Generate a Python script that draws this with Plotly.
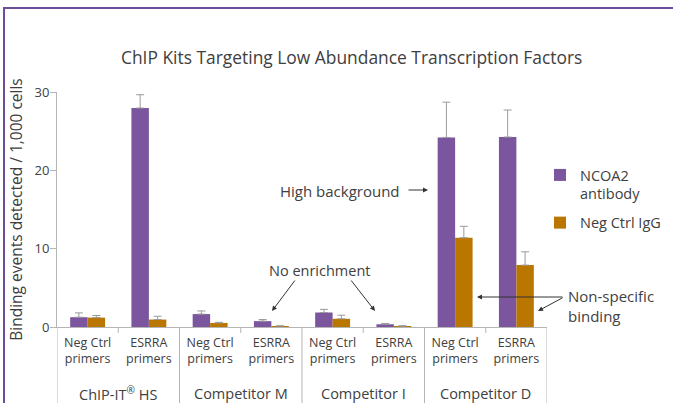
import plotly.graph_objects as go

# ---- data ----
primer_labels = ["Neg Ctrl<br>primers", "ESRRA<br>primers"] * 4
kit_labels = ["ChIP-IT<sup>®</sup> HS", "Competitor M", "Competitor I", "Competitor D"]
ncoa2 = [1.25, 27.95, 1.65, 0.75, 1.85, 0.35, 24.2, 24.25]
ncoa2_err = [0.55, 1.7, 0.4, 0.2, 0.4, 0.1, 4.5, 3.45]
igg = [1.2, 0.95, 0.52, 0.12, 1.05, 0.12, 11.4, 7.9]
igg_err = [0.27, 0.42, 0.08, 0.04, 0.45, 0.04, 1.45, 1.7]
series_names = ["NCOA2<br>antibody", "Neg Ctrl IgG"]
title_text = "ChIP Kits Targeting Low Abundance Transcription Factors"
y_title = "Binding events detected / 1,000 cells"

# ---- layout geometry (pixels) ----
W, H = 673, 403
L, R, T, B = 57, 547, 92, 327
PW, PH = R - L, B - T

def px(xp):
    return (xp - L) / PW

def py(yp):
    return (B - yp) / PH

PURPLE = "#7B559D"
ORANGE = "#BA7700"
TXT = "#404040"
GRID = "#b5b5b5"
FONT = "Open Sans"

x = list(range(len(ncoa2)))

fig = go.Figure()
fig.add_trace(go.Bar(
    x=x, y=ncoa2, name=series_names[0], marker_color=PURPLE, marker_line_width=0,
    legendgroup="a",
    error_y=dict(type="data", array=ncoa2_err, arrayminus=[0] * len(x), symmetric=False,
                 color="#9a9a9a", thickness=1, width=4),
))
fig.add_trace(go.Bar(
    x=x, y=igg, name=series_names[1], marker_color=ORANGE, marker_line_width=0,
    legendgroup="b",
    error_y=dict(type="data", array=igg_err, arrayminus=[0] * len(x), symmetric=False,
                 color="#9a9a9a", thickness=1, width=4),
))

shapes = []
# group separators extending down
for xs in [-0.5, 1.5, 3.5, 5.5, 7.5]:
    shapes.append(dict(type="line", xref="x", yref="paper", x0=xs, x1=xs,
                       y0=0, y1=py(H + 5), line=dict(color=GRID, width=1)))
# short ticks between primers
for xs in [0.5, 2.5, 4.5, 6.5]:
    shapes.append(dict(type="line", xref="x", yref="paper", x0=xs, x1=xs,
                       y0=0, y1=py(B + 6), line=dict(color=GRID, width=1)))
# purple frame
shapes.append(dict(type="line", xref="paper", yref="paper", x0=px(3), x1=px(W + 5),
                   y0=py(8), y1=py(8), line=dict(color="#6B4E97", width=2)))
shapes.append(dict(type="line", xref="paper", yref="paper", x0=px(4), x1=px(4),
                   y0=py(8), y1=py(H + 5), line=dict(color="#6B4E97", width=2)))

annotations = []
# title
annotations.append(dict(text=title_text, xref="paper", yref="paper", x=px(351), y=py(57),
                        showarrow=False, xanchor="center", yanchor="middle",
                        font=dict(size=17.4, color=TXT, family=FONT)))
# kit labels
for i, k in enumerate(kit_labels):
    annotations.append(dict(text=k, xref="x", yref="paper", x=2 * i + 0.5, y=py(393),
                            showarrow=False, xanchor="center", yanchor="middle",
                            font=dict(size=14.5, color=TXT, family=FONT)))

arrow = dict(showarrow=True, arrowhead=2, arrowsize=1, arrowwidth=1, arrowcolor="#333",
             text="", axref="pixel", ayref="pixel")
# High background
annotations.append(dict(text="High background", xref="paper", yref="paper", x=px(402), y=py(191),
                        showarrow=False, xanchor="right", yanchor="middle",
                        font=dict(size=15, color=TXT, family=FONT)))
annotations.append(dict(arrow, xref="paper", yref="paper", x=px(428), y=py(190), ax=-21, ay=0))
# No enrichment
annotations.append(dict(text="No enrichment", xref="paper", yref="paper", x=px(320), y=py(270),
                        showarrow=False, xanchor="center", yanchor="middle",
                        font=dict(size=14.5, color=TXT, family=FONT)))
annotations.append(dict(arrow, xref="paper", yref="paper", x=px(272), y=py(311), ax=24, ay=-32))
annotations.append(dict(arrow, xref="paper", yref="paper", x=px(375), y=py(311), ax=-25, ay=-32))
# Non-specific binding
annotations.append(dict(text="Non-specific<br>binding", xref="paper", yref="paper", x=px(566), y=py(306),
                        showarrow=False, xanchor="left", yanchor="middle", align="left",
                        font=dict(size=15, color=TXT, family=FONT)))
annotations.append(dict(arrow, xref="paper", yref="paper", x=px(477), y=py(297), ax=87, ay=0))
annotations.append(dict(arrow, xref="paper", yref="paper", x=px(538), y=py(311), ax=26, ay=-14))

fig.update_layout(
    width=W, height=H,
    margin=dict(l=L, r=W - R, t=T, b=H - B, pad=0, autoexpand=False),
    paper_bgcolor="white", plot_bgcolor="white",
    barmode="group", bargap=0.43, bargroupgap=0,
    font=dict(family=FONT, color=TXT, size=13),
    showlegend=True,
    legend=dict(x=px(540), y=py(159), xanchor="left", yanchor="top", valign="top",
                font=dict(size=14.5, color=TXT, family=FONT), traceorder="grouped",
                tracegroupgap=7, bgcolor="rgba(0,0,0,0)", itemwidth=30),
    xaxis=dict(range=[-0.5, 7.5], tickvals=x, ticktext=primer_labels, ticks="",
               showline=True, linecolor=GRID, linewidth=1, showgrid=False, zeroline=False,
               automargin=False, ticklabelstandoff=4,
               tickfont=dict(size=12.5, color=TXT, family=FONT), fixedrange=True),
    yaxis=dict(range=[0, 30], tickvals=[0, 10, 20, 30], ticks="outside", ticklen=6,
               tickcolor=GRID, showline=True, linecolor=GRID, linewidth=1, showgrid=False,
               zeroline=False, automargin=False, ticklabelstandoff=-2,
               tickfont=dict(size=13, color=TXT, family=FONT),
               title=dict(text=y_title, font=dict(size=15.5, color=TXT, family=FONT), standoff=8)),
    shapes=shapes, annotations=annotations,
)

fig.write_html("out.html", config={"displayModeBar": False},
               post_script="document.body.style.margin='0px';")
